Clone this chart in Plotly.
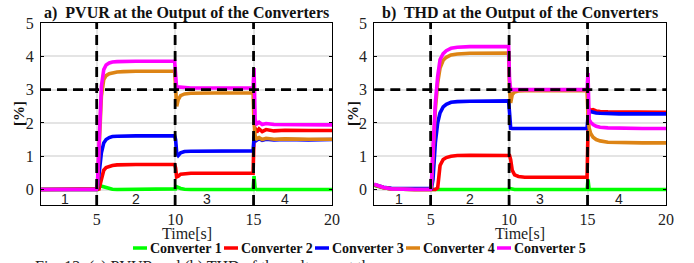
import plotly.graph_objects as go

# ---------------- data ----------------
T = [1.4, 2.0, 2.5, 3.0, 4.0, 4.98, 5.05, 5.15, 5.3, 5.45, 5.6, 5.8, 6.0, 6.3, 6.7, 7.5,
     9.97, 10.03, 10.1, 10.2, 10.35, 10.6, 11.0, 12.5,
     14.97, 15.03, 15.1, 15.2, 15.35, 15.55, 15.8, 16.3, 17.0, 18.5, 20.0]

series_names = ["Converter 1", "Converter 2", "Converter 3", "Converter 4", "Converter 5"]
series_colors = ["#00ff00", "#ff0000", "#0000ff", "#dd8415", "#ff00ff"]

# a) PVUR [%]
pvur_c1 = [0, 0, 0, 0, 0, 0,
           0, 0.12, 0.1, 0.06, 0.04, 0.02, 0.01, 0, 0, 0,
           0, 0.02, 0.08, 0.06, 0.03, 0.01, 0, 0,
           0, 0.4, 0.03, 0, 0, 0, 0, 0, 0, 0, 0]
pvur_c2 = [0, 0, 0, 0, 0, 0,
           0, 0.02, 0.3, 0.58, 0.66, 0.7, 0.72, 0.74, 0.75, 0.75,
           0.75, 0.65, 0.38, 0.4, 0.46, 0.48, 0.49, 0.49,
           0.49, 1.6, 1.85, 1.72, 1.82, 1.74, 1.8, 1.76, 1.78, 1.77, 1.77]
pvur_c3 = [0, 0, 0, 0, 0, 0,
           0.05, 0.4, 1.1, 1.4, 1.5, 1.56, 1.59, 1.6, 1.61, 1.61,
           1.61, 1.5, 1.1, 1.02, 1.1, 1.14, 1.15, 1.16,
           1.16, 1.55, 1.6, 1.48, 1.53, 1.48, 1.51, 1.49, 1.5, 1.49, 1.5]
pvur_c4 = [0, 0, 0, 0, 0, 0,
           0.1, 1.2, 2.8, 3.3, 3.42, 3.48, 3.51, 3.53, 3.54, 3.55,
           3.55, 3.0, 2.5, 2.7, 2.82, 2.87, 2.89, 2.9,
           2.9, 2.0, 1.6, 1.52, 1.56, 1.5, 1.54, 1.51, 1.52, 1.51, 1.51]
pvur_c5 = [0, 0, 0, 0, 0, 0,
           0.2, 1.5, 3.1, 3.6, 3.74, 3.8, 3.83, 3.84, 3.85, 3.85,
           3.85, 3.2, 3.0, 3.08, 3.07, 3.06, 3.05, 3.05,
           3.05, 3.65, 2.1, 1.97, 2.02, 1.95, 1.98, 1.95, 1.95, 1.94, 1.94]

# b) THD [%]
thd_c1 = [0.12, 0.05, 0.02, 0.01, 0, 0,
          0, 0, 0, 0, 0, 0, 0, 0, 0, 0,
          0, 0.03, 0.02, 0, 0, 0, 0, 0,
          0, 0.3, 0, 0, 0, 0, 0, 0, 0, 0, 0]
thd_c2 = [0.14, 0.05, 0.02, 0.01, 0, 0,
          0, 0, 0, 0.05, 0.72, 0.9, 0.96, 1.0, 1.02, 1.03,
          1.04, 1.02, 0.9, 0.58, 0.44, 0.39, 0.37, 0.37,
          0.37, 1.8, 2.42, 2.38, 2.4, 2.36, 2.34, 2.33, 2.33, 2.32, 2.32]
thd_c3 = [0.15, 0.07, 0.04, 0.03, 0.03, 0.03,
          0.03, 0.3, 1.4, 2.0, 2.3, 2.48, 2.56, 2.62, 2.64, 2.65,
          2.66, 2.3, 1.84, 1.83, 1.83, 1.83, 1.83, 1.83,
          1.83, 2.2, 2.38, 2.34, 2.32, 2.3, 2.29, 2.28, 2.27, 2.27, 2.27]
thd_c4 = [0.15, 0.06, 0.02, 0.01, 0, 0,
          0.1, 1.0, 2.4, 3.2, 3.65, 3.88, 3.97, 4.04, 4.07, 4.09,
          4.1, 3.0, 2.6, 2.85, 2.93, 2.96, 2.97, 2.97,
          2.97, 2.2, 1.85, 1.68, 1.57, 1.5, 1.46, 1.42, 1.41, 1.4, 1.4]
thd_c5 = [0.16, 0.06, 0.02, 0.01, 0, 0,
          0.2, 1.2, 2.6, 3.4, 3.9, 4.08, 4.17, 4.24, 4.27, 4.29,
          4.29, 3.3, 3.0, 3.0, 3.0, 3.0, 3.0, 3.0,
          3.0, 3.5, 2.1, 2.02, 1.95, 1.9, 1.87, 1.85, 1.84, 1.83, 1.83]

pvur_series = [pvur_c1, pvur_c2, pvur_c3, pvur_c4, pvur_c5]
thd_series = [thd_c1, thd_c2, thd_c3, thd_c4, thd_c5]

event_times = [5, 10, 15]
limit_value = 3
region_labels = ["1", "2", "3", "4"]
region_x = [3, 7.5, 12, 17]
region_y = -0.28
x_ticks = [5, 10, 15, 20]
y_ticks = [0, 1, 2, 3, 4, 5]

titles = ["a)  PVUR at the Output of the Converters", "b)  THD at the Output of the Converters"]
caption = "Fig. 12: (a) PVUR and (b) THD of the voltages at the"

# ---------------- figure ----------------
W, H = 694, 263
SERIF = "Liberation Serif"
SANS = "Liberation Sans"

def px_x(p):
    return p / W

def px_y(p):
    return 1 - p / H

fig = go.Figure()

for vals, name, col in zip(pvur_series, series_names, series_colors):
    fig.add_trace(go.Scatter(x=T, y=vals, mode="lines", name=name,
                             line=dict(color=col, width=3.6), xaxis="x", yaxis="y",
                             showlegend=False))
for vals, name, col in zip(thd_series, series_names, series_colors):
    fig.add_trace(go.Scatter(x=T, y=vals, mode="lines", name=name,
                             line=dict(color=col, width=3.6), xaxis="x2", yaxis="y2",
                             showlegend=False))

axis_common = dict(
    showgrid=True, gridcolor="#e4e4e4", gridwidth=1.5,
    showline=True, linecolor="black", linewidth=1, mirror="ticks",
    ticks="inside", ticklen=3, tickcolor="black", automargin=False,
    zeroline=False, tickfont=dict(family=SERIF, size=16, color="#222"),
)

y_dom = [px_y(205), px_y(23)]
fig.update_layout(
    template="none",
    width=W, height=H,
    margin=dict(l=0, r=0, t=0, b=0, pad=0),
    paper_bgcolor="white", plot_bgcolor="white",
    xaxis=dict(domain=[px_x(41), px_x(332)], range=[1.45, 20], tickvals=x_ticks,
               anchor="y", **axis_common),
    yaxis=dict(domain=y_dom, range=[-0.465, 5], tickvals=y_ticks, anchor="x",
               ticklabelstandoff=3, **axis_common),
    xaxis2=dict(domain=[px_x(374.3), px_x(666)], range=[1.41, 20], tickvals=x_ticks,
                anchor="y2", **axis_common),
    yaxis2=dict(domain=y_dom, range=[-0.465, 5], tickvals=y_ticks, anchor="x2",
                ticklabelstandoff=3, **axis_common),
    showlegend=False,
)

dash_style = dict(color="black", width=2.8, dash="10px,6px")
shapes = []
annotations = []
for xa, ya in [("x", "y"), ("x2", "y2")]:
    for t in event_times:
        shapes.append(dict(type="line", xref=xa, yref=ya + " domain", x0=t, x1=t, y0=0, y1=1,
                           line=dash_style, layer="above"))
    shapes.append(dict(type="line", xref=xa + " domain", yref=ya, x0=0, x1=1,
                       y0=limit_value, y1=limit_value, line=dash_style, layer="above"))
    for lab, rx in zip(region_labels, region_x):
        annotations.append(dict(text=lab, x=rx, y=region_y, xref=xa, yref=ya, showarrow=False,
                                font=dict(family=SANS, size=14, color="#222")))

# titles
for title, cx in zip(titles, [186.5, 520]):
    annotations.append(dict(text="<b>" + title + "</b>", x=px_x(cx), y=px_y(12.5),
                            xref="paper", yref="paper", showarrow=False,
                            xanchor="center", yanchor="middle",
                            font=dict(family=SERIF, size=16, color="#111")))
# y labels
for cx in [19, 353]:
    annotations.append(dict(text="<b>[%]</b>", x=px_x(cx), y=px_y(114), xref="paper", yref="paper",
                            showarrow=False, textangle=-90, xanchor="center", yanchor="middle",
                            font=dict(family=SERIF, size=15, color="#111")))
# x labels
for cx in [186.5, 520]:
    annotations.append(dict(text="Time[s]", x=px_x(cx), y=px_y(234), xref="paper", yref="paper",
                            showarrow=False, xanchor="center", yanchor="middle",
                            font=dict(family=SERIF, size=16, color="#222")))

# legend row (swatches + labels)
leg_y = 248
for k, (name, col) in enumerate(zip(series_names, series_colors)):
    x0 = 133 + 91 * k
    shapes.append(dict(type="line", xref="paper", yref="paper",
                       x0=px_x(x0), x1=px_x(x0 + 14), y0=px_y(leg_y), y1=px_y(leg_y),
                       line=dict(color=col, width=3.5)))
    annotations.append(dict(text="<b>" + name + "</b>", x=px_x(x0 + 15), y=px_y(leg_y),
                            xref="paper", yref="paper", showarrow=False,
                            xanchor="left", yanchor="middle",
                            font=dict(family=SERIF, size=14, color="#111")))

# caption (cut off at the bottom edge)
annotations.append(dict(text=caption, x=px_x(33), y=px_y(256), xref="paper", yref="paper",
                        showarrow=False, xanchor="left", yanchor="top",
                        font=dict(family=SERIF, size=16, color="#222")))

fig.update_layout(shapes=shapes, annotations=annotations)

fig.write_html("out.html", config={"displayModeBar": False},
               post_script="document.body.style.margin='0';document.body.style.overflow='hidden';")
